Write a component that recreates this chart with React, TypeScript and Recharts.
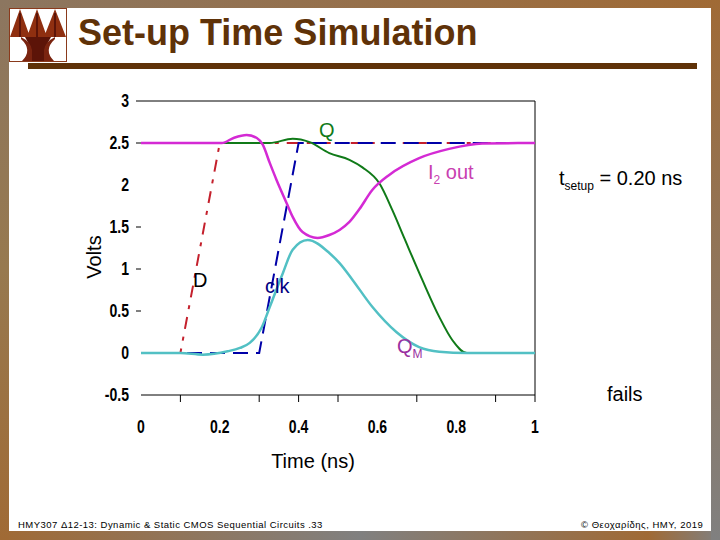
import { LineChart, Line, XAxis, YAxis, ReferenceLine } from 'recharts';

const xTicks = [0, 0.1, 0.2, 0.3, 0.4, 0.5, 0.6, 0.7, 0.8, 0.9, 1];
const xLabelled = [0, 0.2, 0.4, 0.6, 0.8, 1];
const xMarked = [0.1, 0.3, 0.4, 0.5, 0.7, 0.9, 1];
const yTicks = [-0.5, 0, 0.5, 1, 1.5, 2, 2.5, 3];
const yMarked = [0.5, 1, 1.5, 2.5, 3];

const dTimes = [0, 0.1, 0.2, 1];
const dValues = [0, 0, 2.5, 2.5];
const clkTimes = [0, 0.3, 0.4, 1];
const clkValues = [0, 0, 2.5, 2.5];
const qTimes = [0, 0.205, 0.315, 0.327, 0.385, 0.428, 0.478, 0.529, 0.562, 0.605, 0.638, 0.668, 0.714, 0.757, 0.79, 0.827, 0.87, 1];
const qValues = [2.5, 2.5, 2.5, 2.5, 2.55, 2.51, 2.38, 2.3, 2.21, 2.02, 1.7, 1.37, 0.87, 0.43, 0.155, 0, 0, 0];
const i2Times = [0, 0.205, 0.235, 0.268, 0.294, 0.309, 0.327, 0.344, 0.37, 0.385, 0.41, 0.448, 0.478, 0.504, 0.529, 0.554, 0.587, 0.63, 0.706, 0.782, 0.866, 1];
const i2Values = [2.5, 2.5, 2.56, 2.595, 2.56, 2.48, 2.26, 2.06, 1.78, 1.62, 1.44, 1.37, 1.405, 1.465, 1.56, 1.71, 1.94, 2.12, 2.32, 2.43, 2.495, 2.5];
const qmTimes = [0, 0.1, 0.157, 0.22, 0.251, 0.276, 0.306, 0.327, 0.36, 0.385, 0.423, 0.478, 0.504, 0.537, 0.587, 0.648, 0.706, 0.757, 0.827, 1];
const qmValues = [0, 0, -0.02, 0.02, 0.06, 0.12, 0.3, 0.55, 0.95, 1.23, 1.345, 1.19, 1.07, 0.87, 0.55, 0.25, 0.07, 0.015, 0, 0];

const zip = (times: number[], values: number[]) => times.map((t, i) => ({ t, v: values[i] }));

const tickFont = { fontFamily: '"Liberation Sans", Arial, sans-serif', fontWeight: 700, fontSize: 18, fill: '#000' };
const sans = '"Liberation Sans", Arial, sans-serif';

const near = (list: number[], v: number) => list.some((n) => Math.abs(n - v) < 1e-6);

// the tick labels in the slide are squeezed sideways
const XTick = ({ x, y, payload }: any) => (
  <g>
    {near(xMarked, payload.value) && <line x1={x} x2={x} y1={y} y2={y + 7} stroke="#000" />}
    {near(xLabelled, payload.value) && (
      <text transform={`translate(${x} ${y + 38}) scale(0.78 1)`} textAnchor="middle" {...tickFont}>{payload.value}</text>
    )}
  </g>
);

const YTick = ({ x, y, payload }: any) => (
  <g>
    {near(yMarked, payload.value) && <line x1={x - 5} x2={x} y1={y} y2={y} stroke="#000" />}
    <text transform={`translate(${x - 12} ${y + 6}) scale(0.78 1)`} textAnchor="end" {...tickFont}>{payload.value}</text>
  </g>
);

const Note = ({ left, top, color, size = 20, children }: any) => (
  <div style={{ position: 'absolute', left, top, color, fontSize: size, fontFamily: sans, lineHeight: 1, whiteSpace: 'nowrap' }}>
    {children}
  </div>
);

const Bar = ({ left, top, width, height, background }: any) => (
  <div style={{ position: 'absolute', left, top, width, height, background }} />
);

const Logo = () => (
  <svg width={58} height={54} style={{ position: 'absolute', left: 9, top: 8 }}>
    <rect x={0.5} y={0.5} width={57} height={53} fill="#fff" stroke="#8a3a1c" />
    <path d="M1 29 L11 1 L21 29 Z M18 29 L28 1 L38 29 Z M35 29 L46 1 L57 29 Z" fill="#8f2f10" />
    <path d="M11 5 V29 M28 5 V29 M46 5 V29" stroke="#5c1408" strokeWidth={2} />
    <path d="M16 29 H42 L36 40 V53 H22 V40 Z" fill="#5c1408" />
    <path d="M2 31 H15 Q25 41 16 52 H2 Z" fill="#fff" />
    <path d="M56 31 H45 Q33 41 44 52 H56 Z" fill="#fff" />
    <path d="M12 29 Q22 34 23 42 V53 H13 Q24 42 12 31 Z M46 29 Q36 34 35 42 V53 H45 Q34 42 46 31 Z" fill="#7a2410" />
  </svg>
);

export default function App() {
  return (
    <div style={{ position: 'fixed', left: 0, top: 0, width: 720, height: 540, overflow: 'hidden', background: '#fff' }}>
      <Bar left={0} top={0} width={720} height={8} background="linear-gradient(90deg, #8c7660, #a06a35)" />
      <Bar left={0} top={531} width={720} height={9} background="linear-gradient(90deg, #a06a35, #808080 50%, #a06a35 90%, #808080)" />
      <Bar left={0} top={0} width={9} height={540} background="linear-gradient(180deg, #8c7660, #97794f 50%, #a06a35)" />
      <Bar left={711} top={0} width={9} height={540} background="linear-gradient(180deg, #a06a35, #808080)" />
      <Logo />
      <div style={{ position: 'absolute', left: 78, top: 13, color: '#5f3208', fontFamily: sans, fontWeight: 700, fontSize: 36, lineHeight: 1.1, whiteSpace: 'nowrap' }}>
        Set-up Time Simulation
      </div>
      <Bar left={28} top={63} width={669} height={6} background="#5f3208" />

      <div style={{ position: 'absolute', left: 0, top: 0 }}>
        <LineChart width={720} height={540} margin={{ top: 101, right: 185, bottom: 0, left: 0 }}>
          <XAxis
            dataKey="t"
            type="number"
            domain={[0, 1]}
            ticks={xTicks}
            interval={0}
            height={145}
            tickSize={0}
            tickMargin={0}
            tickLine={false}
            tick={<XTick />}
            axisLine={{ stroke: '#000' }}
            label={{ value: 'Time (ns)', position: 'insideBottom', offset: 72, dx: -25, fill: '#000', fontSize: 20, fontFamily: sans }}
          />
          <YAxis
            type="number"
            domain={[-0.5, 3]}
            ticks={yTicks}
            interval={0}
            width={141}
            tickSize={0}
            tickMargin={0}
            tickLine={false}
            tick={<YTick />}
            axisLine={false}
            label={{ value: 'Volts', angle: -90, position: 'insideLeft', offset: 94, dy: 9, textAnchor: 'middle', fill: '#000', fontSize: 20, fontFamily: sans }}
          />
          <ReferenceLine y={3} stroke="#000" />
          <ReferenceLine x={1} stroke="#000" />
          <Line data={zip(dTimes, dValues)} dataKey="v" type="linear" stroke="#c4202c" strokeWidth={2} strokeDasharray="12 8 4 8" dot={false} isAnimationActive={false} />
          <Line data={zip(clkTimes, clkValues)} dataKey="v" type="linear" stroke="#0000a8" strokeWidth={2} strokeDasharray="15 8" dot={false} isAnimationActive={false} />
          <Line data={zip(qTimes, qValues)} dataKey="v" type="monotone" stroke="#107a18" strokeWidth={2} dot={false} isAnimationActive={false} />
          <Line data={zip(qmTimes, qmValues)} dataKey="v" type="monotone" stroke="#52c0c4" strokeWidth={2.5} dot={false} isAnimationActive={false} />
          <Line data={zip(i2Times, i2Values)} dataKey="v" type="monotone" stroke="#d42ad4" strokeWidth={2.5} dot={false} isAnimationActive={false} />
        </LineChart>
      </div>

      <Note left={319} top={120} color="#107a18">Q</Note>
      <Note left={428} top={162} color="#c840b0">I<sub style={{ fontSize: 12 }}>2</sub> out</Note>
      <Note left={559} top={168} color="#000">t<sub style={{ fontSize: 12 }}>setup</sub> = 0.20 ns</Note>
      <Note left={193} top={270} color="#000">D</Note>
      <Note left={265} top={276} color="#000080">clk</Note>
      <Note left={397} top={336} color="#9a30a0">Q<sub style={{ fontSize: 12 }}>M</sub></Note>
      <Note left={607} top={384} color="#000">fails</Note>

      <Note left={18} top={520} color="#000" size={9.5}>
        <span style={{ letterSpacing: 0.47 }}>HMY307 Δ12-13: Dynamic &amp; Static CMOS Sequential Circuits .33</span>
      </Note>
      <Note left={581} top={520} color="#000" size={9.5}>
        <span style={{ letterSpacing: 0.5 }}>© Θεοχαρίδης, ΗΜΥ, 2019</span>
      </Note>
    </div>
  );
}
